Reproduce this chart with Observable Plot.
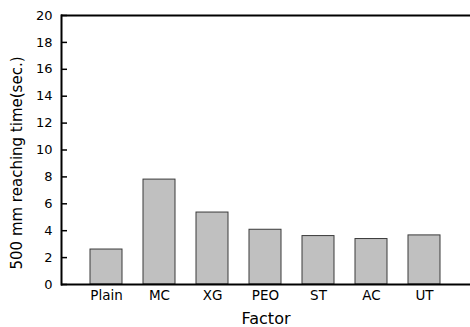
<!DOCTYPE html>
<html>
<head>
<meta charset="utf-8">
<script src="https://cdn.jsdelivr.net/npm/d3@7"></script>
<script src="https://cdn.jsdelivr.net/npm/@observablehq/plot@0.6"></script>
<style>
  html, body { margin: 0; padding: 0; background: #fff; }
  #chart svg { display: block; }
</style>
</head>
<body>
<div id="chart"></div>
<script>
const factors = ["Plain", "MC", "XG", "PEO", "ST", "AC", "UT"];
const times = [2.6, 7.8, 5.35, 4.07, 3.6, 3.38, 3.65];
const yTicks = [0, 2, 4, 6, 8, 10, 12, 14, 16, 18, 20];
const xTitle = "Factor";
const yTitle = "500 mm reaching time(sec.)";

const data = factors.map((f, i) => ({factor: f, time: times[i]}));

const chart = Plot.plot({
  width: 470,
  height: 327,
  marginLeft: 61,
  marginRight: 0,
  marginTop: 15,
  marginBottom: 43,
  style: {fontFamily: "DejaVu Sans", fontSize: "13px", color: "#000", background: "#fff"},
  x: {domain: factors, paddingInner: 0.39, paddingOuter: 0.5, label: null},
  y: {domain: [0, 20], label: null},
  marks: [
    Plot.barY(data, {x: "factor", y: "time", fill: "#c0c0c0", stroke: "#3a3a3a", strokeWidth: 1}),
    Plot.axisX({tickSize: 0, tickPadding: 6, fontSize: 13.5, label: null}),
    Plot.axisY({ticks: yTicks, tickSize: -6, strokeWidth: 1.5, text: null, label: null}),
    Plot.axisY({ticks: yTicks, tickSize: 0, tickPadding: 9, fontSize: 13, label: null}),
    Plot.ruleY([0, 20], {stroke: "#000", strokeWidth: 2}),
    Plot.frame({anchor: "left", stroke: "#000", strokeWidth: 2}),
    Plot.text([xTitle], {frameAnchor: "bottom", dy: 34, lineAnchor: "middle", textAnchor: "middle", fontSize: 16, fill: "#000"}),
    Plot.text([yTitle], {frameAnchor: "left", rotate: -90, dx: -44, dy: 13, lineAnchor: "middle", textAnchor: "middle", fontSize: 15, fill: "#000"})
  ]
});
document.getElementById("chart").appendChild(chart);
</script>
</body>
</html>
